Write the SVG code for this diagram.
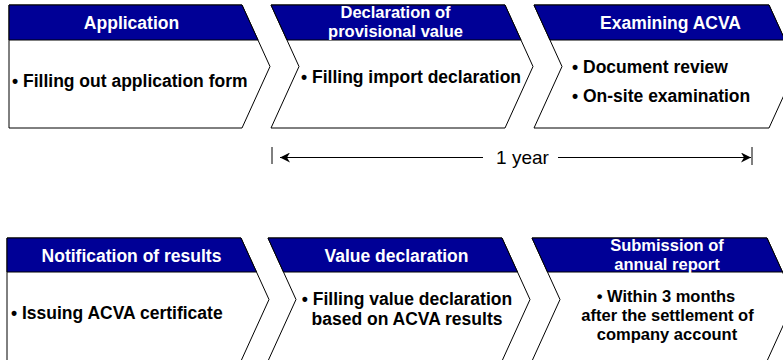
<svg xmlns="http://www.w3.org/2000/svg" width="783" height="360" viewBox="0 0 783 360">
<defs>
<style>
.body{fill:#ffffff;stroke:#000000;stroke-width:1}
.band{fill:#000096;stroke:#000000;stroke-width:1}
.h{font-family:"Liberation Sans",Arial,sans-serif;font-weight:bold;font-size:17.5px;fill:#ffffff;text-anchor:middle}
.t{font-family:"Liberation Sans",Arial,sans-serif;font-weight:bold;font-size:17.5px;fill:#000000}
.m{font-size:16.5px}
.tc{text-anchor:middle}
.lbl{font-family:"Liberation Sans",Arial,sans-serif;font-size:19px;fill:#000000;text-anchor:middle}
.ln{stroke:#000000;stroke-width:1;fill:none}
</style>
<marker id="ah" viewBox="0 0 10 10" refX="10" refY="5" markerWidth="10" markerHeight="10" orient="auto-start-reverse" markerUnits="userSpaceOnUse">
<path d="M0,0 L10,5 L0,10 L3,5 Z" fill="#000000"/>
</marker>
</defs>
<rect width="783" height="360" fill="#ffffff"/>

<g id="application">
<polygon class="body" points="9,5 242,5 270,66.5 242,128 9,128"/>
<polygon class="band" points="9,5 242,5 258,40 9,40"/>
<text class="h" x="131.5" y="29">Application</text>
<text class="t" x="12" y="87">• Filling out application form</text>
</g>

<g id="declaration-provisional">
<polygon class="body" points="271,5 505,5 533,66.5 505,128 271,128 299,66.5"/>
<polygon class="band" points="271,5 505,5 521,40 287,40"/>
<text class="h m" x="395.5" y="18">Declaration of</text>
<text class="h m" x="395.5" y="37">provisional value</text>
<text class="t" x="301" y="83">•  Filling import declaration</text>
</g>

<g id="examining-acva">
<polygon class="body" points="534,5 769,5 797,66.5 769,128 534,128 562,66.5"/>
<polygon class="band" points="534,5 769,5 785,40 550,40"/>
<text class="h" x="670.5" y="29">Examining ACVA</text>
<text class="t" x="572" y="73">• Document review</text>
<text class="t" x="572" y="102">• On-site examination</text>
</g>

<g id="connectors">
<line class="ln" x1="272" y1="147" x2="272" y2="164"/>
<line class="ln" x1="752" y1="147" x2="752" y2="165"/>
<line class="ln" x1="280" y1="157.5" x2="483" y2="157.5" marker-start="url(#ah)"/>
<line class="ln" x1="558" y1="157.5" x2="751" y2="157.5" marker-end="url(#ah)"/>
<text class="lbl" x="522.5" y="164">1 year</text>
</g>

<g id="notification">
<polygon class="body" points="7,238 241,238 269,299.5 241,361 7,361"/>
<polygon class="band" points="7,238 241,238 256.5,272 7,272"/>
<text class="h" x="131.5" y="262">Notification of results</text>
<text class="t" x="11" y="319">•  Issuing ACVA certificate</text>
</g>

<g id="value-declaration">
<polygon class="body" points="268,238 502,238 530,299.5 502,361 268,361 296,299.5"/>
<polygon class="band" points="268,238 502,238 517.5,272 283.5,272"/>
<text class="h" x="396.5" y="262">Value declaration</text>
<text class="t tc" x="407" y="305">• Filling value declaration</text>
<text class="t tc" x="407" y="325">based on ACVA results</text>
</g>

<g id="annual-report">
<polygon class="body" points="532,238 767,238 795,299.5 767,361 532,361 560,299.5"/>
<polygon class="band" points="532,238 767,238 782.5,272 547.5,272"/>
<text class="h m" x="667" y="251">Submission of</text>
<text class="h m" x="667" y="270">annual report</text>
<text class="t tc m" x="666" y="302">• Within 3 months</text>
<text class="t tc m" x="667.5" y="321">after the settlement of</text>
<text class="t tc m" x="667" y="340">company account</text>
</g>
</svg>
